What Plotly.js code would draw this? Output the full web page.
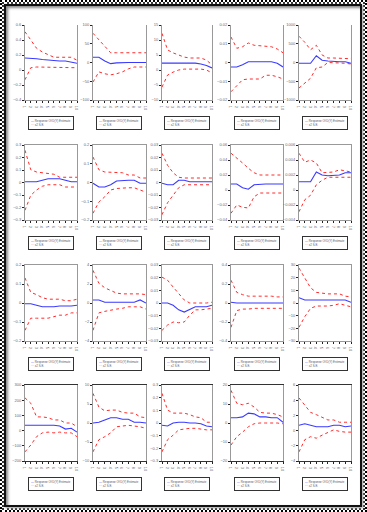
<!DOCTYPE html>
<html>
<head>
<meta charset="utf-8">
<script src="https://cdn.plot.ly/plotly-3.0.1.min.js"></script>
<style>
html,body{margin:0;padding:0;background:#fff;}
#wrap{position:relative;width:367px;height:512px;overflow:hidden;background:#fff;}
#f1{position:absolute;left:0;top:0;width:367px;height:512px;box-sizing:border-box;border:2px dotted #000;}
#f1b{position:absolute;left:2px;top:2px;right:2px;bottom:2px;border:2px dotted #333;}
#f2{position:absolute;left:4px;top:4px;right:5px;bottom:5px;border:2px solid #111;box-shadow:inset 2px 2px 3px #888, 1px 1px 2px #999;}
#chart{position:absolute;left:0;top:0;width:367px;height:512px;}
</style>
</head>
<body>
<div id="wrap"><div id="f1"></div><div id="f1b"></div><div id="f2"></div><div id="chart"></div></div>
<script>
const periods = [1,2,3,4,5,6,7,8,9,10];

const estimate = [
  [.16,.16,.15,.14,.13,.13,.12,.12,.10,.09],
  [14,14,4,-3,-1,0,0,0,0,0],
  [2.3,2.3,2.3,2.3,2.3,2.3,2.3,2,1.5,.7],
  [-.0024,-.0024,-.0012,.0004,.0004,.0004,.0004,.0004,-.0004,-.0024],
  [-20,-20,-20,180,60,40,20,20,20,-20],
  [.006,.006,.006,.018,.03,.03,.03,.018,.006,.006],
  [-.004,-.024,-.024,-.012,.008,.012,.012,.012,-.004,-.004],
  [-.0006,-.0018,-.0018,.0018,.0018,.0006,.0006,.0006,.0006,.0006],
  [.008,.008,.003,.001,.007,.008,.008,.008,.008,.008],
  [.0011,.0011,.0011,.0024,.002,.0019,.0019,.002,.0023,.0023],
  [-.004,-.004,-.012,-.02,-.02,-.02,-.016,-.016,-.016,-.012],
  [.32,.32,.08,.08,.08,.08,.08,.08,.32,0],
  [0,0,-.0018,-.0054,-.0072,-.0054,-.003,-.003,-.003,-.0018],
  [.008,0,0,0,0,0,0,0,0,0],
  [4.2,2.4,2.4,2.4,2.4,2.4,2.4,2.4,2.4,.6],
  [35,35,35,35,35,35,30,10,15,-10],
  [0,.2,.8,1.4,1.4,1,1,.2,.2,0],
  [-.018,-.024,0,.006,.006,0,0,-.006,-.024,-.03],
  [2.8,2.8,3.2,5.2,4.8,3.2,3.2,2.8,2.8,.4],
  [.7,.9,.7,.5,.5,.5,.7,.7,.5,.6]
];

const upperBand = [
  [.51,.40,.29,.24,.20,.17,.17,.17,.17,.13],
  [78,60,42,26,26,26,26,26,26,26],
  [12.2,6.7,5.7,5,4.3,4,4,4,3.3,1.7],
  [.0136,.0076,.0084,.0104,.0092,.0088,.0084,.0084,.0072,.0052],
  [700,540,340,460,200,120,120,120,120,100],
  [.258,.102,.084,.078,.078,.066,.042,.042,.042,.042],
  [.136,.068,.056,.056,.056,.052,.04,.04,.024,.024],
  [.0234,.0138,.0078,.0042,.0036,.0036,.0036,.0036,.0036,.0036],
  [.049,.043,.036,.029,.023,.02,.02,.02,.02,.02],
  [.0049,.0037,.004,.0036,.0023,.0024,.0024,.0027,.0025,.0024],
  [.132,.056,.044,.028,.02,.02,.02,.012,.012,.02],
  [3.44,2.08,1.6,1.28,1.04,.96,.96,.96,.96,.88],
  [.0204,.018,.0126,.0078,.0024,0,0,0,0,.0006],
  [.24,.112,.088,.072,.072,.072,.072,.072,.064,.064],
  [27.6,19.8,12,8.4,7.8,7.2,7.2,7.2,5.4,4.8],
  [215,180,90,90,85,70,70,50,50,25],
  [7.8,4.2,3.2,3.4,3.4,2.8,2.6,2.6,1.6,1.4],
  [.234,.102,.078,.078,.078,.066,.048,.042,.006,.006],
  [17.2,10.4,9.6,10.4,8.4,5.6,5.2,5.2,4.4,3.2],
  [4.3,3.4,2.4,2.1,1.7,1.4,1.4,1.1,1.1,1.1]
];

const lowerBand = [
  [-.13,.03,.04,.04,.04,.04,.04,.04,.04,.03],
  [-52,-25,-30,-33,-30,-25,-17,-12,-12,-12],
  [-5.7,-1.7,-.7,0,.3,.3,.3,.3,0,-1],
  [-.0156,-.0124,-.0092,-.0088,-.0088,-.0088,-.0068,-.0068,-.0076,-.0088],
  [-680,-540,-420,-140,-120,0,0,-10,-20,-40],
  [-.222,-.102,-.06,-.03,-.018,-.018,-.018,-.036,-.036,-.036],
  [-.164,-.104,-.076,-.04,-.032,-.028,-.028,-.028,-.04,-.052],
  [-.0258,-.0162,-.0102,-.0042,-.0018,-.0018,-.0018,-.0018,-.0018,-.0018],
  [-.031,-.02,-.023,-.024,-.009,-.004,-.004,-.004,-.004,-.004],
  [-.0029,-.0013,-.0007,.0007,.0013,.0017,.0017,.0017,.0017,.0017],
  [-.144,-.08,-.08,-.08,-.08,-.072,-.064,-.064,-.052,-.052],
  [-2.88,-1.04,-.88,-.72,-.64,-.56,-.4,-.4,-.4,-.64],
  [-.0216,-.0174,-.015,-.0156,-.015,-.0096,-.0054,-.0054,-.0048,-.0042],
  [-.256,-.08,-.064,-.064,-.056,-.056,-.056,-.056,-.056,-.056],
  [-19.2,-10.8,-4.2,-2.4,-2.4,-2.4,-1.8,-.6,-1.8,-3],
  [-140,-95,-40,-15,-10,-15,-10,-15,-15,-40],
  [-7.6,-4.4,-3.6,-2.6,-1,-.8,-.6,-.8,-1,-1.4],
  [-.228,-.132,-.096,-.054,-.048,-.042,-.042,-.048,-.054,-.054],
  [-11.6,-7.2,-4.8,-2,-.4,0,0,0,0,-.4],
  [-2.8,-1.2,-.8,-1,-.6,-.2,.1,-.1,-.2,-.2]
];

const yTicks = [
  [-.4,-.2,0,.2,.4,.6],
  [-100,-50,0,50,100],
  [-10,-5,0,5,10,15],
  [-.02,-.01,0,.01,.02],
  [-1000,-500,0,500,1000],
  [-.3,-.2,-.1,0,.1,.2,.3],
  [-.2,-.1,0,.1,.2],
  [-.03,-.02,-.01,0,.01,.02,.03],
  [-.04,-.02,0,.02,.04,.06],
  [-.004,-.002,0,.002,.004,.006],
  [-.2,-.1,0,.1,.2],
  [-4,-2,0,2,4],
  [-.03,-.02,-.01,0,.01,.02,.03],
  [-.4,-.2,0,.2,.4],
  [-30,-20,-10,0,10,20,30],
  [-200,-100,0,100,200,300],
  [-10,-5,0,5,10],
  [-.3,-.2,-.1,0,.1,.2,.3],
  [-20,-10,0,10,20],
  [-4,-2,0,2,4,6]
];

const estimateLabel = "Response Of D(Y) Estimate";
const bandLabel = "±2 S.E.";

// layout geometry (pixels)
const W = 367, H = 512;
const colPx = [[25,77],[93,146],[162,212],[231,283],[299,351]];
const rowPx = [[25,100],[145,220],[265,341],[385,461]];

const traces = [];
const layout = {
  width: W, height: H,
  margin: {l:0, r:0, t:0, b:0},
  paper_bgcolor: 'rgba(0,0,0,0)',
  plot_bgcolor: 'rgba(0,0,0,0)',
  showlegend: false,
  font: {family: 'Liberation Sans, Arial, sans-serif', color: '#555'},
  annotations: []
};

for (let k = 0; k < 20; k++) {
  const r = Math.floor(k / 5), c = k % 5;
  const sfx = k === 0 ? '' : String(k + 1);
  const xr = 'x' + sfx, yr = 'y' + sfx;
  const tv = yTicks[k];
  layout['xaxis' + sfx] = {
    domain: [colPx[c][0] / W, colPx[c][1] / W],
    anchor: yr, range: [1, 10], tickvals: periods,
    showline: true, mirror: r > 0, linecolor: r === 3 ? '#333' : '#999', linewidth: 1,
    ticks: 'outside', ticklen: 2, tickcolor: '#222', tickwidth: 1,
    tickfont: {size: 4, color: '#667'}, showgrid: false, zeroline: false, fixedrange: true
  };
  layout['yaxis' + sfx] = {
    domain: [1 - rowPx[r][1] / H, 1 - rowPx[r][0] / H],
    anchor: xr, range: [tv[0], tv[tv.length - 1]], tickvals: tv,
    showline: true, mirror: true, linecolor: '#999', linewidth: 1,
    ticks: 'outside', ticklen: 2, tickcolor: '#222', tickwidth: 1,
    tickfont: {size: 4, color: '#667'}, showgrid: false, zeroline: false, fixedrange: true
  };
  traces.push({x: periods, y: upperBand[k], xaxis: xr, yaxis: yr, mode: 'lines',
    line: {color: '#ff2a2a', width: 1, dash: 'dot'}, name: bandLabel, hoverinfo: 'skip'});
  traces.push({x: periods, y: lowerBand[k], xaxis: xr, yaxis: yr, mode: 'lines',
    line: {color: '#ff2a2a', width: 1, dash: 'dot'}, name: bandLabel, hoverinfo: 'skip'});
  traces.push({x: periods, y: estimate[k], xaxis: xr, yaxis: yr, mode: 'lines',
    line: {color: '#3a3aff', width: 1.1}, name: estimateLabel, hoverinfo: 'skip'});

  layout.annotations.push({
    xref: 'paper', yref: 'paper',
    x: (colPx[c][0] + colPx[c][1]) / 2 / W,
    y: 1 - (rowPx[r][1] + 23) / H,
    xanchor: 'center', yanchor: 'middle', showarrow: false, align: 'left',
    text: '<span style="color:#3a3aff">—</span> ' + estimateLabel +
          '<br><span style="color:#ff2a2a">···</span> ' + bandLabel,
    font: {size: 2.9, color: '#556'},
    bordercolor: '#333', borderwidth: 1, borderpad: 2, bgcolor: '#fff'
  });
}

Plotly.newPlot('chart', traces, layout, {staticPlot: true, displayModeBar: false});
</script>
</body>
</html>
